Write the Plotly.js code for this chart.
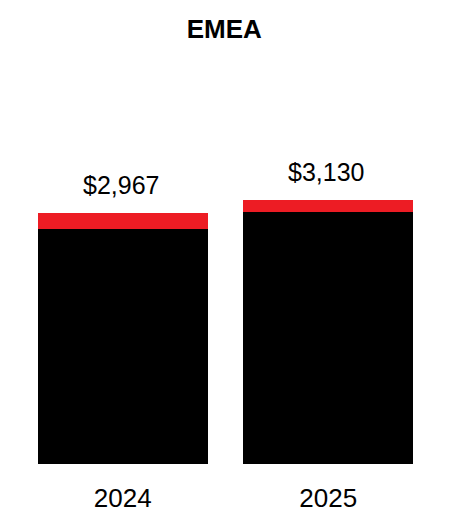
<!DOCTYPE html>
<html><head><meta charset="utf-8">
<script src="https://cdn.plot.ly/plotly-3.0.1.min.js"></script>
<style>html,body{margin:0;padding:0;background:#fff}#c{width:452px;height:532px}</style>
</head><body><div id="c"></div>
<script>
const years = ['2024', '2025'];
const baseValues = [2789, 2984];
const topValues = [178, 146];
const totalLabels = ['$2,967', '$3,130'];
const totals = [2967, 3130];

const font = 'Liberation Sans, Arial, sans-serif';
const xpos = years.map((_, i) => i);
const data = [
  {type: 'bar', x: xpos, y: baseValues, width: 0.827, marker: {color: '#000000'}, hoverinfo: 'skip'},
  {type: 'bar', x: xpos, y: topValues, width: 0.827, marker: {color: '#ED1C24'}, hoverinfo: 'skip'}
];
const annotations = xpos.map((x, i) => ({
  x: x, y: totals[i], text: totalLabels[i], showarrow: false,
  xref: 'x', yref: 'y', xshift: -2,
  yanchor: 'bottom', yshift: 12, font: {family: font, size: 25, color: '#000'}
}));
const layout = {
  width: 452, height: 532,
  margin: {l: 20, r: 21, t: 60, b: 68},
  barmode: 'stack', showlegend: false,
  paper_bgcolor: '#fff', plot_bgcolor: '#fff',
  title: {text: '<b>EMEA</b>', x: 0.496, xanchor: 'center', y: 0.945, yanchor: 'middle',
    font: {family: font, size: 26, color: '#000'}},
  xaxis: {type: 'linear', range: [-0.5, 1.5], tickmode: 'array', tickvals: xpos, ticktext: years,
    showgrid: false, zeroline: false, showline: false,
    ticks: 'outside', ticklen: 11, tickcolor: 'rgba(0,0,0,0)',
    tickfont: {family: font, size: 26, color: '#000'}},
  yaxis: {type: 'linear', range: [0, 4785], visible: false, showgrid: false, zeroline: false},
  annotations: annotations
};
Plotly.newPlot('c', data, layout, {displayModeBar: false, staticPlot: true});
</script></body></html>
